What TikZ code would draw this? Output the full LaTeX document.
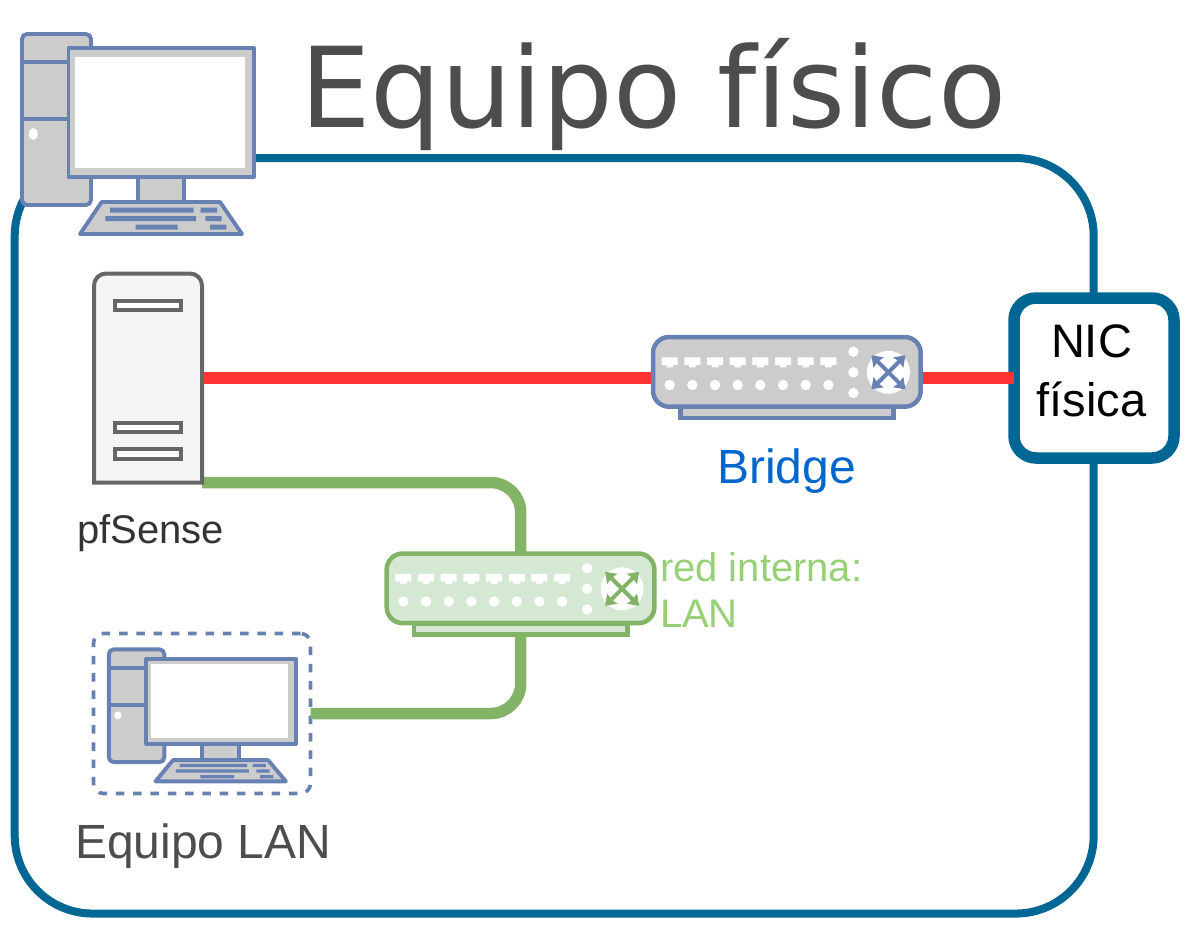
\documentclass[tikz,border=0pt]{standalone}
\usepackage{xcolor}
\usepackage{fontspec}
\setmainfont{Liberation Sans}
\newfontfamily\titlefont{DejaVu Sans}
\usetikzlibrary{
  arrows.meta,
  positioning
}
\definecolor{hostBlue}{HTML}{006794}
\definecolor{iconBlue}{HTML}{6881B3}
\definecolor{iconGrey}{HTML}{CCCCCC}
\definecolor{lanGreen}{HTML}{82B366}
\definecolor{lanFill}{HTML}{D5E8D4}
\definecolor{wanRed}{HTML}{FF3333}
\definecolor{textDark}{HTML}{4D4D4D}
\definecolor{bridgeBlue}{HTML}{0066CC}
\definecolor{lanText}{HTML}{97D077}
\definecolor{serverLine}{HTML}{666666}
\definecolor{serverFill}{HTML}{F5F5F5}
\tikzset{
  hostframe/.style={draw=hostBlue, line width=8, rounded corners=78, minimum width=1079, minimum height=755.5},
  nicbox/.style={draw=hostBlue, line width=11.5, fill=white, rounded corners=22, outer sep=0, inner sep=0, minimum width=160, minimum height=160, align=center, font=\fontsize{47}{59}\selectfont},
  device/.style={inner sep=0, outer sep=0},
  lanbox/.style={device, draw=iconBlue, line width=3.6, dash pattern=on 8.5 off 8.8, rounded corners=10, minimum width=217, minimum height=160},
  wanlink/.style={line width=11.3, wanRed},
  lanlink/.style={line width=11.5, lanGreen, rounded corners=30},
  slot/.style={draw=serverLine, line width=4, fill=white},
  pcpart/.style={draw=iconBlue, line width=3.9, fill=iconGrey, line join=round},
  pckey/.style={fill=iconBlue},
  label/.style={inner sep=0, outer sep=0, anchor=base west},
  swarrow/.style={line width=4, {Stealth[length=10,width=14,inset=1]}-{Stealth[length=10,width=14,inset=1]}},
  pics/desktop/.style={code={
    \draw[pcpart, rounded corners=5] (0,0) rectangle (69,171);
    \draw[pcpart] (0,28) -- (46,28) (0,85) -- (46,85);
    \fill[white] (11.3,100) ellipse (4.5 and 6);
    \draw[pcpart] (115.7,143) rectangle (162,168);
    \draw[pcpart] (79.7,168) -- (198,168) -- (220,200) -- (58,200) -- cycle;
    \fill[pckey] (88,173.5) rectangle (171.7,178.5) (178.7,173.5) rectangle (195,178.5);
    \fill[pckey] (83.3,182) rectangle (174,187) (183.3,182) rectangle (199.7,187);
    \fill[pckey] (113.7,190.5) rectangle (155.7,195.5) (188,190.5) rectangle (204.3,195.5);
    \draw[pcpart] (46.5,14) rectangle (232,143);
    \fill[white] (53,23) rectangle (223,134);
  }},
  pics/switchbox/.style n args={3}{code={
    \draw[draw=#1, fill=#2, line width=4.5] (27.4,70) rectangle (240.7,81);
    \draw[draw=#1, fill=#2, line width=4.5, rounded corners=16] (0,0) rectangle (267.7,69.7);
    \foreach \i in {0,...,7} {
      \fill[white, shift={(22.67*\i,0)}] (8.7,20.3) rectangle (24.7,28) (13.4,28) rectangle (20,30.3);
      \fill[white] (16.7+22.67*\i,48) circle (5.2);
    }
    \foreach \y in {14.7,35.3,56} \fill[white] (200.4,\y) circle (5.2);
    \fill[white] (235.4,35.3) circle (21.5);
    \draw[#3, swarrow] (218.4,18.3) -- (252.4,52.3);
    \draw[#3, swarrow] (252.4,18.3) -- (218.4,52.3);
  }}
}
\begin{document}
\begin{tikzpicture}[x=1pt, y=-1pt]
  \useasboundingbox (0,0) rectangle (1188,924);
  \node[hostframe] (host) at (554.2,535.8) {};
  % devices
  \node[device, minimum width=108, minimum height=209] (pfsense) at (148,378) {};
  \node[device, minimum width=268, minimum height=82] (bridge) at (787,378) {};
  \node[device, minimum width=268, minimum height=82] (lansw) at (520.7,594.5) {};
  \node[lanbox] (lanpc) at (202,713.5) {};
  \node[nicbox] (nic) at (1094,378) {NIC\kern5pt\\física\kern5pt\rule[-15pt]{0pt}{15pt}};
  % links
  \draw[wanlink] (pfsense) -- (bridge);
  \draw[wanlink] (bridge) -- (nic);
  \draw[lanlink] (pfsense.south east) -| (lansw.north);
  \draw[lanlink] (lanpc.east) -| (lansw.south);
  % server
  \draw[draw=serverLine, fill=serverFill, line width=4, line join=miter]
    (pfsense.south west) [rounded corners=12] -- (pfsense.north west) -- (pfsense.north east) [sharp corners] -- (pfsense.south east) -- cycle;
  \draw[slot] (115,300.5) rectangle (181,310);
  \draw[slot] (115,422.5) rectangle (181,431.5);
  \draw[slot] (115,449) rectangle (181,458.5);
  \pic at (bridge.north west) {switchbox={iconBlue}{iconGrey}{iconBlue}};
  \pic at (lansw.north west) {switchbox={lanGreen}{lanFill}{lanGreen}};
  \pic at (22,34) {desktop};
  \pic[xscale=0.805, yscale=0.66] at (108.8,649.3) {desktop};
  % labels
  \node[label, text=textDark, font=\titlefont\fontsize{111.5}{120}\selectfont] (title) at (300,127) {Equipo físico};
  \node[label, text=bridgeBlue, font=\fontsize{48}{56}\selectfont, anchor=base] (bridgelabel) at (786.5,483) {Bridge};
  \node[label, text=black!80, font=\fontsize{40}{48}\selectfont] (pflabel) at (77,543) {pfSense};
  \node[label, text=lanText, font=\fontsize{40}{46}\selectfont, align=left] (lanlabel) at (660,627) {red interna:\\LAN};
  \node[label, text=textDark, font=\fontsize{48}{56}\selectfont] (pclabel) at (75,858.5) {Equipo LAN};
\end{tikzpicture}
\end{document}
